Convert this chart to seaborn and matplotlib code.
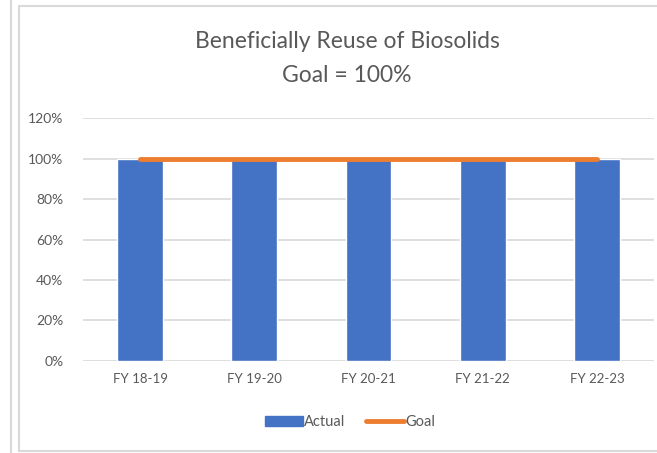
import numpy as np
import pandas as pd
import seaborn as sns
import matplotlib.pyplot as plt
from matplotlib.lines import Line2D
from matplotlib.patches import Patch

years = ['FY 18-19', 'FY 19-20', 'FY 20-21', 'FY 21-22', 'FY 22-23']
actual = [1.0, 1.0, 1.0, 1.0, 1.0]
goal = [1.0, 1.0, 1.0, 1.0, 1.0]
yticks = [0, 0.2, 0.4, 0.6, 0.8, 1.0, 1.2]

sns.set_style('white')
plt.rcParams['font.family'] = ['Lato', 'DejaVu Sans']

blue = '#4472C4'
orange = '#ED7D31'
grey_text = '#595959'

fig = plt.figure(figsize=(6.57, 4.53), dpi=100)
ax = fig.add_axes([0.1263, 0.2031, 0.8691, 0.5364])

df = pd.DataFrame({'year': years, 'actual': actual, 'goal': goal})
sns.barplot(data=df, x='year', y='actual', color=blue, width=0.4,
            saturation=1, ax=ax, zorder=2)
sns.pointplot(data=df, x='year', y='goal', color=orange, marker='',
              linewidth=3.5, errorbar=None, ax=ax, zorder=3)

ax.set_ylim(0, 1.2)
ax.set_xlim(-0.5, 4.5)
ax.set_yticks(yticks)
ax.set_yticklabels([f'{int(round(t*100))}%' for t in yticks])
ax.yaxis.grid(True, color='#d9d9d9', linewidth=1.2, zorder=0)
ax.set_axisbelow(True)
for s in ax.spines.values():
    s.set_visible(False)
ax.set_xlabel('')
ax.set_ylabel('')
ax.tick_params(axis='both', length=0, colors=grey_text)
ax.tick_params(axis='y', pad=14, labelsize=10)
ax.tick_params(axis='x', pad=9, labelsize=9.5)

fig.text(347/657, 1 - 42/453, 'Beneficially Reuse of Biosolids', ha='center',
         va='center', fontsize=16.5, color=grey_text)
fig.text(347/657, 1 - 75/453, 'Goal = 100%', ha='center', va='center',
         fontsize=16.5, color=grey_text)

handles = [Patch(color=blue, label='Actual'),
           Line2D([0], [0], color=orange, linewidth=3.5, label='Goal')]
fig.legend(handles=handles, loc='center', bbox_to_anchor=(350/657, 1 - 422/453),
           ncol=2, frameon=False, fontsize=10.5, labelcolor=grey_text,
           handlelength=2.6, handletextpad=0.1, columnspacing=1.4)

# outer frame lines like the spreadsheet screenshot
fig.add_artist(Line2D([11/657, 11/657], [0, 1], color='#d9d9d9', linewidth=1.5))
fig.add_artist(Line2D([18.5/657, 18.5/657], [1 - 451/453, 1 - 6/453], color='#d9d9d9', linewidth=1.5))
fig.add_artist(Line2D([18.5/657, 1], [1 - 6/453, 1 - 6/453], color='#d9d9d9', linewidth=1.5))
fig.add_artist(Line2D([18.5/657, 1], [1 - 451/453, 1 - 451/453], color='#d9d9d9', linewidth=1.5))

fig.savefig('out.png', dpi=100)
